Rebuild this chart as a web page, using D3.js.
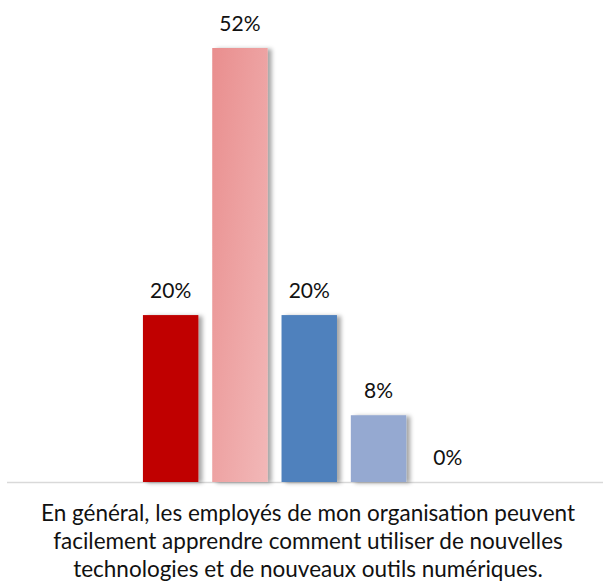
<!DOCTYPE html>
<html>
<head>
<meta charset="utf-8">
<script src="https://cdn.jsdelivr.net/npm/d3@7"></script>
<style>
  html, body { margin: 0; padding: 0; background: #fff; }
  svg { display: block; }
  text { font-family: Lato, "Open Sans", sans-serif; fill: #111; }
</style>
</head>
<body>
<div class="chart"></div>
<script>
// answer categories (not shown on the chart) and their shares
const categories = ["Tout à fait d'accord", "Plutôt d'accord", "Plutôt pas d'accord", "Pas du tout d'accord", "Ne sait pas"];
const values = [20, 52, 20, 8, 0];
const valueLabels = ["20%", "52%", "20%", "8%", "0%"];
const colors = ["#c00000", "url(#pinkGrad)", "#4f81bd", "#95a9d1", "#95a9d1"];
const captionLines = [
  "En général, les employés de mon organisation peuvent",
  "facilement apprendre comment utiliser de nouvelles",
  "technologies et de nouveaux outils numériques."
];

const width = 603, height = 582;
const baseline = 482;

const svg = d3.select(".chart").append("svg")
  .attr("width", width)
  .attr("height", height);

const defs = svg.append("defs");

const grad = defs.append("linearGradient")
  .attr("id", "pinkGrad")
  .attr("x1", "0").attr("y1", "0")
  .attr("x2", "1").attr("y2", "1");
grad.append("stop").attr("offset", "0%").attr("stop-color", "#e98e8e");
grad.append("stop").attr("offset", "100%").attr("stop-color", "#f2b8b8");

const shadow = defs.append("filter")
  .attr("id", "shadow")
  .attr("x", "-20%").attr("y", "-5%")
  .attr("width", "150%").attr("height", "115%");
shadow.append("feDropShadow")
  .attr("dx", 4).attr("dy", 1)
  .attr("stdDeviation", 2)
  .attr("flood-color", "#000")
  .attr("flood-opacity", 0.35);

const x = d3.scaleBand()
  .domain(categories)
  .range([136, 482.5])
  .paddingInner(0.2)
  .paddingOuter(0.1);

const y = d3.scaleLinear()
  .domain([0, 52])
  .range([baseline, 48]);

// baseline
svg.append("line")
  .attr("x1", 7).attr("x2", width)
  .attr("y1", baseline + 0.5).attr("y2", baseline + 0.5)
  .attr("stroke", "#d9d9d9")
  .attr("stroke-width", 1.5);

svg.append("g")
  .attr("class", "bars")
  .selectAll("rect")
  .data(values)
  .enter()
  .append("rect")
  .filter(function(d) { return d > 0; })
  .attr("x", function(d, i) { return x(categories[i]); })
  .attr("y", function(d) { return y(d); })
  .attr("width", x.bandwidth())
  .attr("height", function(d) { return baseline - y(d); })
  .attr("fill", function(d, i) { return colors[i]; })
  .attr("filter", "url(#shadow)");

svg.append("g")
  .attr("class", "labels")
  .selectAll("text")
  .data(values)
  .enter()
  .append("text")
  .attr("x", function(d, i) { return x(categories[i]) + x.bandwidth() / 2; })
  .attr("y", function(d) { return y(d) - 17.5; })
  .attr("text-anchor", "middle")
  .style("font-size", "21px")
  .text(function(d, i) { return valueLabels[i]; });

svg.append("g")
  .attr("class", "caption")
  .selectAll("text")
  .data(captionLines)
  .enter()
  .append("text")
  .attr("x", 308)
  .attr("y", function(d, i) { return 520.5 + i * 28.3; })
  .attr("text-anchor", "middle")
  .style("font-size", "22.5px")
  .text(function(d) { return d; });
</script>
</body>
</html>
